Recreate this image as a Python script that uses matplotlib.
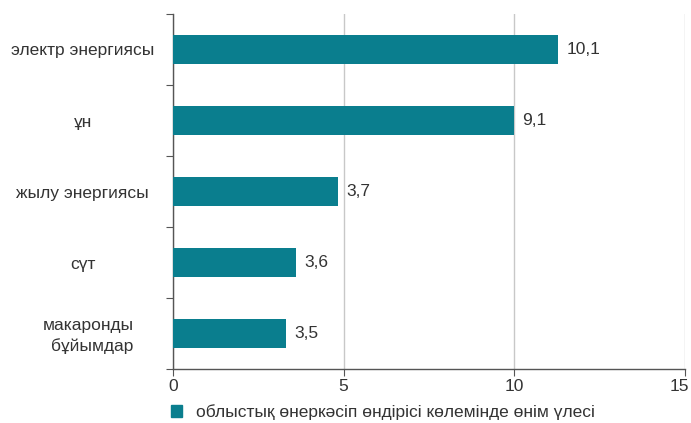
import matplotlib
matplotlib.use("Agg")
import matplotlib.pyplot as plt
from matplotlib.patches import Patch
import matplotlib.transforms as mtransforms
import numpy as np

plt.rcParams['font.family'] = ['Liberation Sans', 'DejaVu Sans']

categories = ["электр энергиясы", "ұн", "жылу энергиясы", "сүт", "макаронды\nбұйымдар"]
bar_lengths = [11.28, 9.99, 4.84, 3.6, 3.31]
value_labels = ["10,1", "9,1", "3,7", "3,6", "3,5"]
xticks = [0, 5, 10, 15]
legend_label = "облыстық өнеркәсіп өндірісі көлемінде өнім үлесі"

teal = "#0a7e8e"
text_col = "#333333"
spine_col = "#555555"
fs = 12.5

fig = plt.figure(figsize=(6.91, 4.23), dpi=100)
ax = fig.add_axes([173/691, 1-369/423, (685-173)/691, (369-14)/423])

y = np.arange(len(categories))
ax.barh(y, bar_lengths, height=0.41, color=teal, zorder=3)
for yi, v, lab in zip(y, bar_lengths, value_labels):
    ax.annotate(lab, (v, yi), xytext=(6, 0), textcoords="offset points",
                ha="left", va="center", fontsize=fs, color=text_col)

ax.set_xlim(0, 15)
ax.set_ylim(len(categories)-0.5, -0.5)
ax.set_xticks(xticks)
ax.set_xticklabels([str(t) for t in xticks], fontsize=fs, color=text_col)
ax.tick_params(axis='x', length=5, color=spine_col, pad=2)
ax.grid(axis='x', color="#c8c8c8", linewidth=1, zorder=0)
last = ax.get_xticklabels()[-1]
last.set_transform(last.get_transform() + mtransforms.ScaledTranslation(-4/72, 0, fig.dpi_scale_trans))

ax.set_yticks(np.arange(len(categories)+1)-0.5)
ax.set_yticklabels([])
ax.tick_params(axis='y', which='major', length=5, color=spine_col)
ax.set_yticks(y, minor=True)
ax.set_yticklabels(categories, minor=True, fontsize=fs, color=text_col, ha='center',
                   multialignment='right', linespacing=1.35)
ax.tick_params(axis='y', which='minor', length=0, pad=65)
mac = ax.get_yticklabels(minor=True)[-1]
mac.set_transform(mac.get_transform() + mtransforms.ScaledTranslation(4/72, 1/72, fig.dpi_scale_trans))

for s in ['top', 'right']:
    ax.spines[s].set_visible(False)
for s in ['left', 'bottom']:
    ax.spines[s].set_color(spine_col)
    ax.spines[s].set_linewidth(1)

fig.legend(handles=[Patch(color=teal, label=legend_label)], loc='center left',
           bbox_to_anchor=(171/691, 1-412/423), frameon=False, fontsize=fs,
           handlelength=0.65, handleheight=0.65, handletextpad=0.8, borderpad=0,
           borderaxespad=0, labelcolor=text_col)

fig.savefig("out.png", dpi=100)
